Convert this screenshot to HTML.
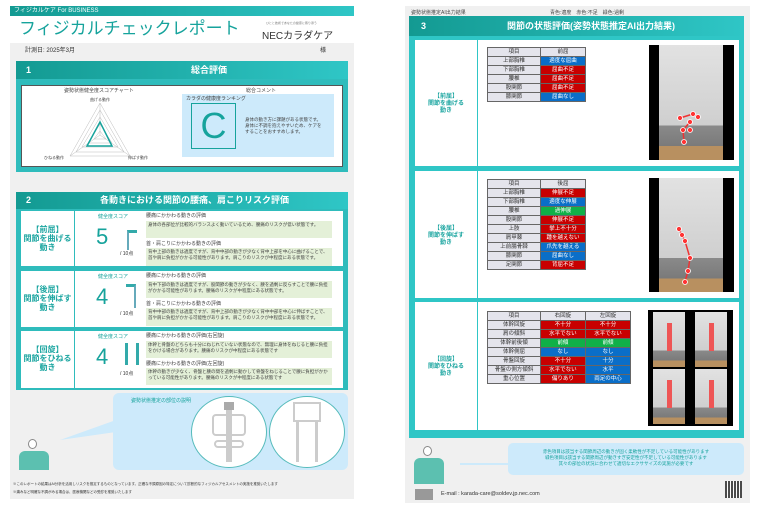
<!DOCTYPE html>
<html><head><meta charset="utf-8"><style>
*{margin:0;padding:0;box-sizing:border-box}
body{width:760px;height:514px;background:#fff;position:relative;overflow:hidden;font-family:"Liberation Sans","Noto Sans CJK JP",sans-serif;color:#333}
.a{position:absolute}
.t{font-size:5px;line-height:6px;color:#444}
.teal{background:linear-gradient(90deg,#139a92,#2fc6c6)}
.hd{color:#fff;font-size:9px;font-weight:bold}
.lab{color:#1aa5a0;font-weight:bold;text-align:center;font-size:8px;line-height:9px}
table{border-collapse:collapse;position:absolute;font-size:5.5px}
td{border:1px solid #666;height:9px;text-align:center;line-height:7px;padding:0}
td.g{background:#e4e4ec;color:#333}
.r{background:#c80000;color:#fff}.b{background:#0a6ec8;color:#fff}.gr{background:#10b048;color:#fff}
.cmt{background:#e4f0d8;font-size:4.5px;line-height:5.5px;color:#444;padding:1px 2px}
.photo{background:#000}
.photo div{position:absolute;background:linear-gradient(#e2e2e2,#cfcfcf 70%,#8a8a8a 70%,#7a7a7a 88%,#b89060 88%)}
</style></head><body>
<!-- LEFT PAGE -->
<div class="a" style="left:10px;top:6px;width:344px;height:493px;background:#f0f0f0"></div>
<div class="a teal" style="left:10px;top:6px;width:344px;height:10px;font-size:6px;color:#fff;padding-left:4px;line-height:10px">フィジカルケア For BUSINESS</div>
<div class="a" style="left:10px;top:16px;width:344px;height:27px;background:#fff"></div>
<div class="a" style="left:19px;top:17px;font-size:17px;color:#16a39c;line-height:24px">フィジカルチェックレポート</div>
<div class="a" style="left:266px;top:21px;font-size:3px;color:#777">ひとと技術であなたの健康に寄り添う</div>
<div class="a" style="left:262px;top:27px;font-size:10px;color:#333">NECカラダケア</div>
<div class="a" style="left:25px;top:45px;font-size:6px;color:#333">計測日: 2025年3月</div>
<div class="a" style="left:320px;top:45px;font-size:6px;color:#333">様</div>
<!-- section1 -->
<div class="a" style="left:16px;top:61px;width:332px;height:111px;background:#2fbcbc"></div>
<div class="a teal hd" style="left:16px;top:61px;width:332px;height:18px;line-height:18px"><span style="position:absolute;left:10px">1</span><span style="position:absolute;left:175px">総合評価</span></div>
<div class="a" style="left:21px;top:85px;width:322px;height:82px;background:#fff;border:1px solid #555"></div>
<div class="a t" style="left:64px;top:88px">姿勢状態健全度スコアチャート</div>
<div class="a t" style="left:246px;top:88px">総合コメント</div>
<svg class="a" style="left:30px;top:95px" width="160" height="70">
<g fill="none" stroke="#bbb" stroke-width=".5">
<polygon points="70,8 40,61 100,61"/><polygon points="70,15 46,57 94,57"/><polygon points="70,22 52,52 88,52"/><polygon points="70,29 58,48 82,48"/><polygon points="70,36 64,44 76,44"/>
<line x1="70" y1="40" x2="70" y2="8"/><line x1="70" y1="40" x2="40" y2="61"/><line x1="70" y1="40" x2="100" y2="61"/></g>
<polygon points="70,27 57,51 82,51" fill="none" stroke="#16a39c" stroke-width="1.5"/>
<text x="60" y="6" font-size="4" fill="#444">曲げる動作</text>
<text x="14" y="64" font-size="4" fill="#444">ひねる動作</text>
<text x="98" y="64" font-size="4" fill="#444">伸ばす動作</text>
</svg>
<div class="a" style="left:182px;top:94px;width:152px;height:63px;background:#cdeafb"></div>
<div class="a t" style="left:186px;top:96px">カラダの健康度ランキング</div>
<div class="a" style="left:191px;top:103px;width:45px;height:46px;border:1px solid #16a39c;color:#16a39c;font-size:36px;text-align:center;line-height:44px">C</div>
<div class="a t" style="left:245px;top:117px;width:80px;font-size:4.5px">身体の動き方に課題がある状態です。身体に不調を抱えやすいため、ケアをすることをおすすめします。</div>
<!-- section2 -->
<div class="a" style="left:16px;top:192px;width:332px;height:198px;background:#2fbcbc"></div>
<div class="a teal hd" style="left:16px;top:192px;width:332px;height:17px;line-height:17px"><span style="position:absolute;left:10px">2</span><span style="position:absolute;left:84px">各動きにおける関節の腰痛、肩こりリスク評価</span></div>
<div class="a" style="left:21px;top:211px;width:322px;height:55px;background:#fff"></div>
<div class="a" style="left:21px;top:271px;width:322px;height:56px;background:#fff"></div>
<div class="a" style="left:21px;top:331px;width:322px;height:57px;background:#fff"></div>
<div class="a" style="left:74px;top:211px;width:1px;height:177px;background:#2fbcbc"></div>
<div class="a lab" style="left:21px;top:225px;width:53px">【前屈】<br>関節を曲げる<br>動き</div>
<div class="a lab" style="left:21px;top:285px;width:53px">【後屈】<br>関節を伸ばす<br>動き</div>
<div class="a lab" style="left:21px;top:345px;width:53px">【回旋】<br>関節をひねる<br>動き</div>
<div class="a" style="left:98px;top:213px;font-size:5px;color:#16a39c">健全度スコア</div>
<div class="a" style="left:98px;top:273px;font-size:5px;color:#16a39c">健全度スコア</div>
<div class="a" style="left:98px;top:333px;font-size:5px;color:#16a39c">健全度スコア</div>
<div class="a" style="left:96px;top:224px;font-size:22px;color:#16a39c">5</div>
<div class="a" style="left:96px;top:284px;font-size:22px;color:#16a39c">4</div>
<div class="a" style="left:96px;top:344px;font-size:22px;color:#16a39c">4</div>
<div class="a" style="left:120px;top:250px;font-size:5px">/ 10点</div>
<div class="a" style="left:120px;top:310px;font-size:5px">/ 10点</div>
<div class="a" style="left:120px;top:370px;font-size:5px">/ 10点</div>
<div class="a" style="left:127px;top:230px;width:10px;height:20px;border-left:2px solid #6ab;border-top:3px solid #3aa"></div>
<div class="a" style="left:126px;top:284px;width:10px;height:24px;border-right:2px solid #6ab;border-top:3px solid #3aa"></div>
<div class="a" style="left:125px;top:343px;width:3px;height:22px;background:#3aa"></div><div class="a" style="left:136px;top:343px;width:3px;height:22px;background:#3aa"></div>
<div class="a t" style="left:146px;top:213px">腰痛にかかわる動きの評価</div>
<div class="a cmt" style="left:146px;top:221px;width:186px;height:17px">身体の各部位が比較的バランスよく動いているため、腰痛のリスクが低い状態です。</div>
<div class="a t" style="left:146px;top:241px">首・肩こりにかかわる動きの評価</div>
<div class="a cmt" style="left:146px;top:248px;width:186px;height:18px">背中上部の動きは適度ですが、背中中部の動きが少なく背中上部を中心に曲げることで、首や肩に負担がかかる可能性があります。肩こりのリスクが中程度にある状態です。</div>
<div class="a t" style="left:146px;top:273px">腰痛にかかわる動きの評価</div>
<div class="a cmt" style="left:146px;top:281px;width:186px;height:17px">背中下部の動きは適度ですが、股関節の動きが少なく、腰を過剰に反らすことで腰に負担がかかる可能性があります。腰痛のリスクが中程度にある状態です。</div>
<div class="a t" style="left:146px;top:301px">首・肩こりにかかわる動きの評価</div>
<div class="a cmt" style="left:146px;top:308px;width:186px;height:18px">背中中部の動きは適度ですが、背中上部の動きが少なく背中中部を中心に伸ばすことで、首や肩に負担がかかる可能性があります。肩こりのリスクが中程度にある状態です。</div>
<div class="a t" style="left:146px;top:333px">腰痛にかかわる動きの評価(右回旋)</div>
<div class="a cmt" style="left:146px;top:341px;width:186px;height:17px">体幹と骨盤のどちらも十分にねじれていない状態なので、無理に身体をねじると腰に負担をかける場合があります。腰痛のリスクが中程度にある状態です</div>
<div class="a t" style="left:146px;top:361px">腰痛にかかわる動きの評価(左回旋)</div>
<div class="a cmt" style="left:146px;top:368px;width:186px;height:17px">体幹の動きが少なく、骨盤と腰の間を過剰に動かして骨盤をねじることで腰に負担がかかっている可能性があります。腰痛のリスクが中程度にある状態です</div>
<!-- bubble -->
<div class="a" style="left:113px;top:393px;width:235px;height:77px;background:#cdeafb;border-radius:6px"></div>
<svg class="a" style="left:60px;top:400px" width="60" height="50"><polygon points="0,40 56,20 56,32" fill="#cdeafb"/></svg>
<div class="a" style="left:131px;top:397px;font-size:5px;color:#16a39c">姿勢状態推定の部位の説明</div>
<div class="a" style="left:191px;top:396px;width:76px;height:72px;border-radius:50%;border:1.5px solid #5bb;background:#fff"></div>
<div class="a" style="left:269px;top:396px;width:76px;height:72px;border-radius:50%;border:1.5px solid #5bb;background:#fff"></div>
<div class="a" style="left:224px;top:402px;width:10px;height:8px;background:#aaa"></div>
<div class="a" style="left:226px;top:410px;width:6px;height:52px;background:#ccc"></div>
<div class="a" style="left:212px;top:414px;width:34px;height:22px;border:2px solid #ccc;border-radius:4px"></div>
<div class="a" style="left:214px;top:440px;width:30px;height:8px;border:2px solid #ccc;border-radius:4px"></div>
<div class="a" style="left:293px;top:402px;width:28px;height:20px;border:2px solid #ccc"></div>
<div class="a" style="left:296px;top:422px;width:3px;height:40px;background:#ccc"></div><div class="a" style="left:315px;top:422px;width:3px;height:40px;background:#ccc"></div>
<div class="a" style="left:28px;top:439px;width:9px;height:10px;border-radius:50%;border:1px solid #888;background:#fff"></div>
<div class="a" style="left:19px;top:451px;width:30px;height:19px;background:#5cc0b0;border-radius:6px 6px 0 0"></div>
<div class="a" style="left:13px;top:482px;font-size:3.5px;color:#333">※このレポートの結果はAI分析を活用しリスクを推定するものとなっています。正確な不調原因の特定について診断的なフィジカルアセスメントの実施を推奨いたします</div>
<div class="a" style="left:13px;top:490px;font-size:3.5px;color:#333">※痛みなど明確な不調がみる場合は、医療機関などの受診を推奨いたします</div>
<!-- RIGHT PAGE -->
<div class="a" style="left:405px;top:6px;width:345px;height:497px;background:#f0f0f0"></div>
<div class="a t" style="left:411px;top:10px">姿勢状態推定AI出力結果</div>
<div class="a t" style="left:550px;top:10px">青色:適度　赤色:不足　緑色:過剰</div>
<div class="a" style="left:409px;top:16px;width:335px;height:422px;background:#2fc6c6"></div>
<div class="a teal hd" style="left:409px;top:16px;width:335px;height:20px;line-height:20px"><span style="position:absolute;left:12px">3</span><span style="position:absolute;left:98px">関節の状態評価(姿勢状態推定AI出力結果)</span></div>
<div class="a" style="left:415px;top:40px;width:324px;height:126px;background:#fff"></div>
<div class="a" style="left:415px;top:171px;width:324px;height:127px;background:#fff"></div>
<div class="a" style="left:415px;top:302px;width:324px;height:128px;background:#fff"></div>
<div class="a" style="left:477px;top:40px;width:1px;height:390px;background:#2fc6c6"></div>
<div class="a lab" style="left:415px;top:94px;width:62px;font-size:6px;line-height:7px">【前屈】<br>関節を曲げる<br>動き</div>
<div class="a lab" style="left:415px;top:226px;width:62px;font-size:6px;line-height:7px">【後屈】<br>関節を伸ばす<br>動き</div>
<div class="a lab" style="left:415px;top:357px;width:62px;font-size:6px;line-height:7px">【回旋】<br>関節をひねる<br>動き</div>
<table style="left:487px;top:47px;width:99px"><tr><td class="g" style="width:54%">項目</td><td class="g">前屈</td></tr>
<tr><td class="g">上部胸椎</td><td class="b">適度な屈曲</td></tr><tr><td class="g">下部胸椎</td><td class="r">屈曲不足</td></tr>
<tr><td class="g">腰椎</td><td class="r">屈曲不足</td></tr><tr><td class="g">股関節</td><td class="r">屈曲不足</td></tr><tr><td class="g">膝関節</td><td class="b">屈曲なし</td></tr></table>
<table style="left:487px;top:179px;width:99px"><tr><td class="g" style="width:54%">項目</td><td class="g">後屈</td></tr>
<tr><td class="g">上部胸椎</td><td class="r">伸展不足</td></tr><tr><td class="g">下部胸椎</td><td class="b">適度な伸展</td></tr>
<tr><td class="g">腰椎</td><td class="gr">過伸展</td></tr><tr><td class="g">股関節</td><td class="r">伸展不足</td></tr>
<tr><td class="g">上肢</td><td class="r">挙上不十分</td></tr><tr><td class="g">肩甲棘</td><td class="r">踵を越えない</td></tr>
<tr><td class="g">上前腸骨棘</td><td class="b">爪先を越える</td></tr><tr><td class="g">膝関節</td><td class="b">屈曲なし</td></tr><tr><td class="g">足関節</td><td class="r">背屈不足</td></tr></table>
<table style="left:487px;top:311px;width:144px"><tr><td class="g" style="width:37%">項目</td><td class="g">右回旋</td><td class="g">左回旋</td></tr>
<tr><td class="g">体幹回旋</td><td class="r">不十分</td><td class="r">不十分</td></tr>
<tr><td class="g">肩の傾斜</td><td class="r">水平でない</td><td class="r">水平でない</td></tr>
<tr><td class="g">体幹前後傾</td><td class="gr">前傾</td><td class="gr">前傾</td></tr>
<tr><td class="g">体幹側屈</td><td class="b">なし</td><td class="b">なし</td></tr>
<tr><td class="g">骨盤回旋</td><td class="r">不十分</td><td class="b">十分</td></tr>
<tr><td class="g">骨盤の側方傾斜</td><td class="r">水平でない</td><td class="b">水平</td></tr>
<tr><td class="g">重心位置</td><td class="r">偏りあり</td><td class="b">両足の中心</td></tr></table>
<div class="a photo" style="left:649px;top:45px;width:85px;height:115px"><div style="left:10px;top:0;width:64px;height:115px"></div></div>
<div class="a photo" style="left:649px;top:178px;width:85px;height:114px"><div style="left:10px;top:0;width:64px;height:114px"></div></div>
<div class="a photo" style="left:648px;top:310px;width:85px;height:116px"><div style="left:5px;top:2px;width:32px;height:55px"></div><div style="left:47px;top:2px;width:32px;height:55px"></div><div style="left:5px;top:59px;width:32px;height:55px"></div><div style="left:47px;top:59px;width:32px;height:55px"></div></div>
<svg class="a" style="left:648px;top:45px" width="86" height="385">
<g stroke="#e33" stroke-width="1.5" fill="none"><polyline points="32,73 45,69 50,72"/><polyline points="36,97 35,85 42,77"/><polyline points="31,184 34,190 37,196 42,213 40,226 37,237"/></g>
<g fill="#f33" stroke="#fff" stroke-width=".8">
<circle cx="32" cy="73" r="2.5"/><circle cx="45" cy="69" r="2.5"/><circle cx="50" cy="72" r="2.5"/><circle cx="42" cy="77" r="2.5"/><circle cx="35" cy="85" r="2.5"/><circle cx="42" cy="85" r="2.5"/><circle cx="36" cy="97" r="2.5"/>
<circle cx="31" cy="184" r="2.5"/><circle cx="34" cy="190" r="2.5"/><circle cx="37" cy="196" r="2.5"/><circle cx="42" cy="213" r="2.5"/><circle cx="40" cy="226" r="2.5"/><circle cx="37" cy="237" r="2.5"/></g>
<g fill="#e55"><rect x="19" y="278" width="5" height="28"/><rect x="61" y="278" width="5" height="28"/><rect x="19" y="335" width="5" height="28"/><rect x="61" y="335" width="5" height="28"/></g></svg>
<!-- footer -->
<div class="a" style="left:508px;top:443px;width:236px;height:32px;background:#cdeafb;border-radius:5px"></div>
<div class="a" style="left:460px;top:463px;width:50px;height:1.5px;background:#cdeafb"></div>
<div class="a" style="left:515px;top:449px;width:222px;font-size:4.5px;line-height:6px;color:#16a39c;text-align:center">赤色項目は該当する関節周辺の動きが固く柔軟性が不足している可能性があります<br>緑色項目は該当する関節周辺が動きすぎ安定性が不足している可能性があります<br>其々の部位の状況に合わせて適切なエクササイズの実施が必要です</div>
<div class="a" style="left:423px;top:446px;width:9px;height:10px;border-radius:50%;border:1px solid #888;background:#fff"></div>
<div class="a" style="left:414px;top:458px;width:30px;height:26px;background:#5cc0b0;border-radius:6px 6px 0 0"></div>
<div class="a" style="left:415px;top:489px;width:18px;height:11px;background:#999"></div>
<div class="a" style="left:441px;top:491px;font-size:5.5px;color:#333">E-mail : karada-care@soldev.jp.nec.com</div>
<div class="a" style="left:725px;top:481px;width:17px;height:17px;background:repeating-linear-gradient(90deg,#222 0 2px,#fff 2px 3px),#222;opacity:.8"></div>
</body></html>
